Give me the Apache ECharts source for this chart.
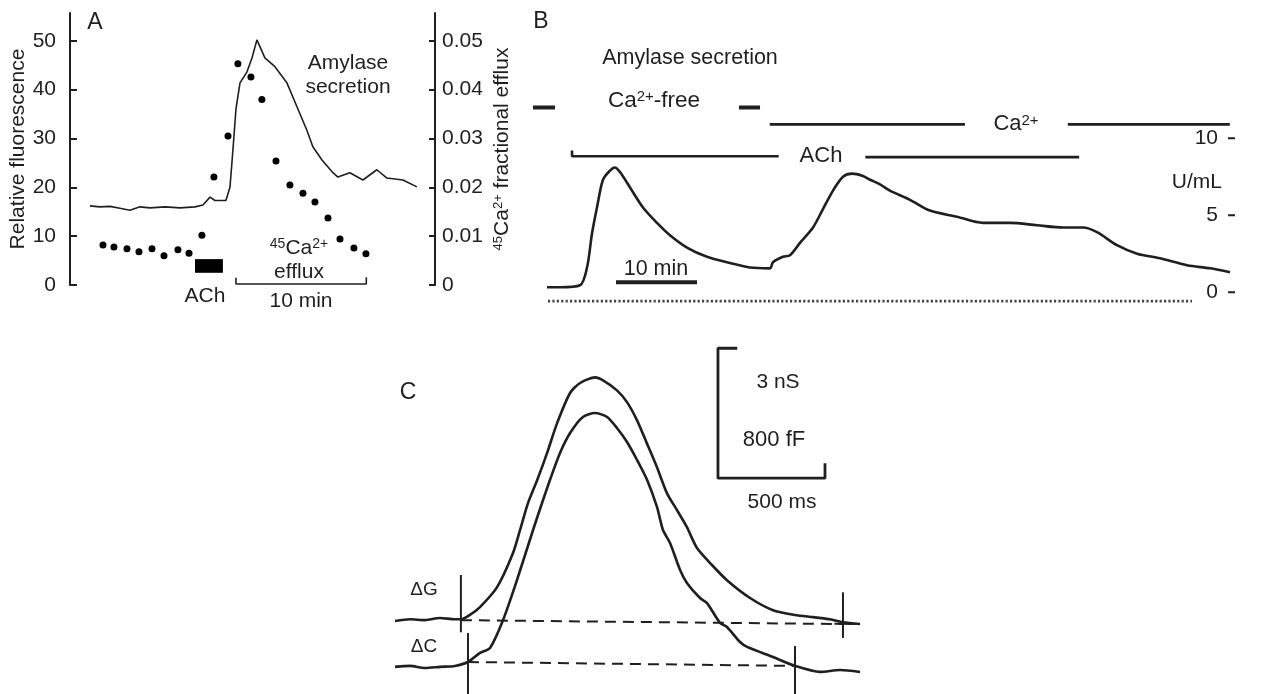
<!DOCTYPE html>
<html><head><meta charset="utf-8">
<script src="https://cdn.jsdelivr.net/npm/echarts@6/dist/echarts.min.js"></script>
<style>html,body{margin:0;padding:0;background:#fff}#c{width:1265px;height:694px}</style>
</head><body><div id="c"></div>
<script>
// ---------- Panel A (minutes) ----------
const aFluorTime  = [1.53,2.30,3.07,3.83,4.60,5.37,6.13,7.29,8.44,9.59,10.20,10.74,11.12,11.96,12.27,12.50,12.73,13.04,13.57,13.96,14.34,14.95,15.72,16.64,17.41,18.17,18.63,19.33,20.17,20.55,21.47,22.47,23.54,24.31,25.54,26.61];
const aFluorValue = [16.2,16.0,16.1,15.7,15.3,16.0,15.8,16.0,15.8,16.0,16.4,18.0,17.3,17.3,20.0,27.7,36.0,41.4,43.6,46.5,50.2,46.5,44.7,41.4,36.5,31.7,28.3,25.6,23.0,22.1,23.0,21.5,23.6,21.9,21.5,20.1];
const aEffluxTime  = [2.53,3.37,4.37,5.29,6.29,7.21,8.28,9.13,10.12,11.04,12.12,12.88,13.88,14.72,15.80,16.87,17.87,18.79,19.79,20.71,21.78,22.70];
const aEffluxValue = [0.0082,0.0078,0.0074,0.0068,0.0074,0.0060,0.0072,0.0065,0.0102,0.0221,0.0305,0.0453,0.0426,0.0380,0.0254,0.0205,0.0188,0.0170,0.0137,0.0094,0.0076,0.0064];
const aLeftTicks  = [0,10,20,30,40,50];
const aRightTicks = [0,0.01,0.02,0.03,0.04,0.05];
const aAChPulse   = [9.59, 11.73];
const aTimeBar    = [12.73, 22.73];

// ---------- Panel B (minutes, U/mL) ----------
const bTime    = [2.10,3.70,6.17,7.04,7.65,8.27,9.01,9.88,10.49,11.11,12.35,13.95,15.68,17.28,19.38,21.85,24.69,27.16,29.63,30.00,31.23,32.10,33.33,34.94,36.17,37.41,38.64,39.75,41.11,42.00,43.21,44.44,46.91,49.38,52.72,55.93,59.26,62.59,65.80,68.27,70.00,72.47,74.94,77.78,81.11,83.95,86.42];
const bAmylase = [0.32,0.32,0.45,1.6,3.8,5.5,7.3,7.9,8.1,7.8,6.8,5.5,4.5,3.7,2.9,2.3,1.9,1.6,1.55,1.95,2.3,2.4,3.2,4.2,5.4,6.6,7.5,7.7,7.55,7.3,7.0,6.6,6.0,5.3,4.9,4.5,4.5,4.35,4.2,4.2,3.9,3.05,2.5,2.2,1.75,1.55,1.3];
const bTicks   = [0,5,10];
const bCaFree  = [[0.37,3.09],[25.8,28.4]];
const bCa      = [[29.6,53.7],[66.4,86.4]];
const bACh     = [[5.19,30.7],[41.4,67.8]];
const bTimeBar = [10.62, 20.62];
const bPaperEdge = [2.22, 81.73];

// ---------- Panel C (ms; ΔG nS, ΔC fF) ----------
const cTimeG  = [70,140,210,280,350,378,420,467,547,621,654,691,734,780,827,888,935,1005,1042,1107,1154,1201,1247,1294,1341,1388,1434,1481,1551,1621,1729,1836,1939,2023,2102,2163,2243];
const cDeltaG = [-0.02,0.02,0,0.05,0.02,0.02,0.12,0.30,0.76,1.54,2.07,2.69,3.22,3.84,4.53,5.23,5.46,5.59,5.52,5.29,5.02,4.60,4.07,3.52,2.92,2.53,2.14,1.66,1.27,0.92,0.51,0.23,0.12,0.07,0.02,-0.05,-0.09];
const cTimeC  = [70,140,210,280,350,411,467,514,575,640,715,757,794,841,888,948,1005,1061,1107,1154,1201,1248,1294,1322,1355,1402,1434,1495,1528,1589,1621,1682,1715,1836,1939,2056,2149,2243];
const cDeltaC = [-18,-12,-25,-18,-12,12,68,99,271,517,825,991,1133,1299,1422,1521,1545,1521,1453,1367,1256,1133,967,825,745,579,499,406,375,252,228,135,105,43,-12,-49,-37,-49];
const cGMarks = [378, 2163];   // ms, onset / end of ΔG
const cCMarks = [411, 1939];   // ms, onset / end of ΔC
const cBarTime = 500, cBarG = 3;  // scale bar: 500 ms, 3 nS (= 800 fF)

const FONT = 'Liberation Sans';
const INK = '#1f1f1f';
const zip = (a, b) => a.map((v, i) => [v, b[i]]);
const B_XMAX = 87.04;

function lineSeries(x, y, data, width, extra) {
  return Object.assign({
    type: 'line', xAxisIndex: x, yAxisIndex: y, data: data, symbol: 'none',
    silent: true, animation: false,
    lineStyle: { color: INK, width: width }, z: 3
  }, extra || {});
}

const series = [];
// Panel A
series.push(lineSeries(0, 0, zip(aFluorTime, aFluorValue), 1.6, {
  markArea: { silent: true, itemStyle: { color: '#000', opacity: 1 },
    data: [[{ coord: [aAChPulse[0], 5.3] }, { coord: [aAChPulse[1], 2.5] }]] }
}));
series.push({ type: 'scatter', xAxisIndex: 0, yAxisIndex: 1, data: zip(aEffluxTime, aEffluxValue),
  symbolSize: 7, itemStyle: { color: '#000', opacity: 1 }, silent: true, animation: false });
series.push(lineSeries(0, 0, [[aTimeBar[0], 1.5], [aTimeBar[0], 0.2], [aTimeBar[1], 0.2], [aTimeBar[1], 1.6]], 1.6));

// Panel B
series.push(lineSeries(1, 2, zip(bTime, bAmylase), 2.6, { smooth: 0.3 }));
bCaFree.forEach(s => series.push(lineSeries(1, 2, [[s[0], 12.0], [s[1], 12.0]], 4)));
bCa.forEach(s => series.push(lineSeries(1, 2, [[s[0], 10.9], [s[1], 10.9]], 2.6)));
bACh.forEach((s, i) => series.push(lineSeries(1, 2,
  i === 0 ? [[s[0], 9.2], [s[0], 8.83], [s[1], 8.83]] : [[s[0], 8.77], [s[1], 8.77]], 2.6)));
series.push(lineSeries(1, 2, [[bTimeBar[0], 0.65], [bTimeBar[1], 0.65]], 4));
series.push(lineSeries(1, 2, [[bPaperEdge[0], -0.58], [bPaperEdge[1], -0.58]], 2.6,
  { lineStyle: { color: '#444', width: 2.6, type: [2.2, 2.2] } }));
// tick marks of the U/mL axis (drawn at the right edge of panel B)
bTicks.forEach(v => series.push(lineSeries(1, 2, [[B_XMAX - 0.86, v], [B_XMAX, v]], 2)));

// Panel C
series.push(lineSeries(2, 3, zip(cTimeG, cDeltaG), 2.6, { smooth: 0.25 }));
series.push(lineSeries(2, 4, zip(cTimeC, cDeltaC), 2.6, { smooth: 0.25 }));
series.push(lineSeries(2, 3, [[cGMarks[0], 0], [cGMarks[1], -0.09]], 2,
  { lineStyle: { color: INK, width: 2, type: [11, 7] } }));
series.push(lineSeries(2, 4, [[cCMarks[0], 12], [cCMarks[1], -12]], 2,
  { lineStyle: { color: INK, width: 2, type: [11, 7] } }));
series.push(lineSeries(2, 3, [[cGMarks[0], 1.04], [cGMarks[0], -0.28]], 2));
series.push(lineSeries(2, 3, [[cGMarks[1], 0.64], [cGMarks[1], -0.41]], 2));
series.push(lineSeries(2, 3, [[cGMarks[1] - 40, -0.08], [cGMarks[1] + 60, -0.09]], 2));
series.push(lineSeries(2, 4, [[cCMarks[0], 191], [cCMarks[0], -185]], 2));
series.push(lineSeries(2, 4, [[cCMarks[1], 111], [cCMarks[1], -185]], 2));
const bx = 1579, by = 3.27;
series.push(lineSeries(2, 3, [[bx + 90, by + cBarG - 0.01], [bx, by + cBarG - 0.01], [bx, by], [bx + cBarTime, by], [bx + cBarTime, by + 0.34]], 2.8));

const sup = { fontSize: 13, verticalAlign: 'top', padding: [0, 0, 6, 0], fontFamily: FONT };
function txt(s, x, y, size, align) {
  const fs = size || 21;
  return { type: 'text', x: x, y: y, silent: true, z: 10,
    style: { text: s, fill: INK, fontSize: fs, fontFamily: FONT,
      align: align || 'center', verticalAlign: 'middle',
      rich: { sup: Object.assign({}, sup, { fontSize: Math.round(fs * 0.68) }) } } };
}

const option = {
  animation: false,
  backgroundColor: '#fff',
  textStyle: { fontFamily: FONT, color: INK },
  grid: [
    { left: 70, top: 13, width: 365, height: 272 },
    { left: 530, top: 92, width: 705, height: 215.6 },
    { left: 380, top: 340, width: 500, height: 354 }
  ],
  xAxis: [
    { gridIndex: 0, type: 'value', min: 0, max: 28, show: false },
    { gridIndex: 1, type: 'value', min: 0, max: B_XMAX, show: false },
    { gridIndex: 2, type: 'value', min: 0, max: 2336, show: false }
  ],
  yAxis: [
    { gridIndex: 0, type: 'value', position: 'left', min: 0, max: 55.7,
      axisLine: { show: true, lineStyle: { color: INK, width: 2 } },
      axisTick: { show: true, inside: true, length: 7, customValues: aLeftTicks, lineStyle: { color: INK, width: 2 } },
      axisLabel: { customValues: aLeftTicks, fontSize: 21, color: INK, margin: 14 },
      splitLine: { show: false },
      name: 'Relative fluorescence', nameLocation: 'middle', nameGap: 40, nameRotate: 90,
      nameTextStyle: { fontSize: 21, color: INK } },
    { gridIndex: 0, type: 'value', position: 'right', min: 0, max: 0.0557,
      axisLine: { show: true, lineStyle: { color: INK, width: 2 } },
      axisTick: { show: true, inside: true, length: 6, customValues: aRightTicks, lineStyle: { color: INK, width: 2 } },
      axisLabel: { customValues: aRightTicks, fontSize: 21, color: INK, margin: 7,
        formatter: v => v === 0 ? '0' : v.toFixed(2) },
      splitLine: { show: false },
      name: '{sup|45}Ca{sup|2+} fractional efflux', nameLocation: 'middle', nameGap: 57, nameRotate: 90,
      nameTextStyle: { fontSize: 21, color: INK, rich: { sup: sup } } },
    { gridIndex: 1, type: 'value', position: 'right', min: -1, max: 13,
      axisLine: { show: false },
      axisTick: { show: false },
      axisLabel: { customValues: bTicks, inside: true, fontSize: 21, color: INK, margin: 17 },
      splitLine: { show: false } },
    { gridIndex: 2, type: 'value', min: -1.7, max: 6.45, show: false },
    { gridIndex: 2, type: 'value', min: -185, max: 1995, show: false }
  ],
  graphic: [
    txt('A', 95, 23, 23),
    txt('Amylase', 348, 63), txt('secretion', 348, 87),
    txt('{sup|45}Ca{sup|2+}', 299, 248), txt('efflux', 299, 272),
    txt('ACh', 205, 296), txt('10 min', 301, 301),
    txt('B', 541, 22, 23),
    txt('Amylase secretion', 690, 58, 21.5),
    txt('Ca{sup|2+}-free', 654, 101, 22.5),
    txt('Ca{sup|2+}', 1016, 124, 22),
    txt('ACh', 821, 156, 22),
    txt('10 min', 656, 269, 21.5),
    txt('U/mL', 1222, 182, 21, 'right'),
    txt('C', 408, 393, 23),
    txt('3 nS', 778, 382), txt('800 fF', 774, 440, 22), txt('500 ms', 782, 502),
    txt('ΔG', 424, 590, 19), txt('ΔC', 424, 647, 19)
  ],
  series: series
};
const chart = echarts.init(document.getElementById('c'));
chart.setOption(option);
</script></body></html>
